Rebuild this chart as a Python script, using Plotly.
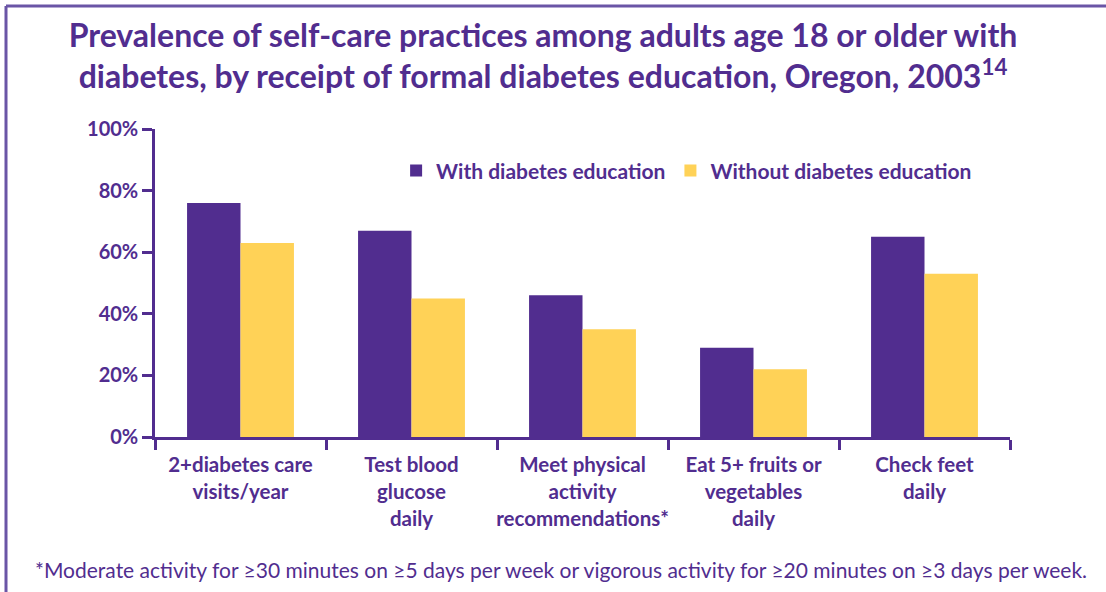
import plotly.graph_objects as go

categories = ["2+diabetes care<br>visits/year", "Test blood<br>glucose<br>daily",
              "Meet physical<br>activity<br>recommendations*", "Eat 5+ fruits or<br>vegetables<br>daily",
              "Check feet<br>daily"]
with_edu = [76, 67, 46, 29, 65]
without_edu = [63, 45, 35, 22, 53]
y_ticks = [0, 20, 40, 60, 80, 100]
y_labels = ["0%", "20%", "40%", "60%", "80%", "100%"]

PURPLE = "#512D8F"
YELLOW = "#FFD257"
FRAME = "#6A55A6"
FONT = "Lato"

fig = go.Figure()
fig.add_trace(go.Bar(x=categories, y=with_edu, name="With diabetes education",
                     marker=dict(color=PURPLE, line=dict(width=0))))
fig.add_trace(go.Bar(x=categories, y=without_edu, name="Without diabetes education",
                     marker=dict(color=YELLOW, line=dict(width=0))))

fig.update_layout(
    width=1106, height=592,
    margin=dict(l=155, r=96, t=129, b=155, autoexpand=False),
    paper_bgcolor="white", plot_bgcolor="white",
    barmode="group", bargap=0.375, bargroupgap=0,
    title=dict(text="Prevalence of self-care practices among adults age 18 or older with<br>diabetes, by receipt of formal diabetes education, Oregon, 2003<sup>14</sup>",
               x=0.491, xanchor="center", y=0.921, yanchor="middle", automargin=False,
               font=dict(family=FONT, size=32, color=PURPLE, weight="bold")),
    font=dict(family=FONT, color=PURPLE),
    legend=dict(orientation="h", x=0.282, y=0.864, xanchor="left", yanchor="middle",
                font=dict(family=FONT, size=21, color=PURPLE, weight="bold"),
                bgcolor="rgba(0,0,0,0)", itemwidth=30, traceorder="normal"),
    showlegend=True,
)
fig.update_xaxes(type="category", tickson="boundaries", ticks="outside", ticklen=10,
                 tickwidth=2.5, tickcolor=PURPLE, showline=True, linecolor=PURPLE,
                 linewidth=2.5, showgrid=False, zeroline=False, ticklabelstandoff=8,
                 tickangle=0, automargin=False,
                 tickfont=dict(family=FONT, size=20.5, color=PURPLE, weight="bold"))
fig.update_yaxes(range=[0, 100], tickvals=y_ticks, ticktext=y_labels, ticks="outside",
                 ticklen=10, tickwidth=2.5, tickcolor=PURPLE, showline=True,
                 linecolor=PURPLE, linewidth=2.5, showgrid=False, zeroline=False,
                 automargin=False,
                 tickfont=dict(family=FONT, size=20, color=PURPLE, weight="bold"))

# frame (left and top border)
px_x = lambda p: (p - 155) / 855
px_y = lambda p: (437 - p) / 308
fig.add_shape(type="line", xref="paper", yref="paper", x0=px_x(6), x1=px_x(6),
              y0=px_y(6), y1=px_y(600), line=dict(color=FRAME, width=3))
fig.add_shape(type="line", xref="paper", yref="paper", x0=px_x(6), x1=px_x(1110),
              y0=px_y(6), y1=px_y(6), line=dict(color=FRAME, width=3))

fig.add_annotation(text="*Moderate activity for \u226530 minutes on \u22655 days per week or vigorous activity for \u226520 minutes on \u22653 days per week.",
                   xref="paper", yref="paper", x=px_x(561), y=px_y(569), xanchor="center",
                   yanchor="middle", showarrow=False,
                   font=dict(family=FONT, size=21, color=PURPLE))

fig.write_html("out.html")
